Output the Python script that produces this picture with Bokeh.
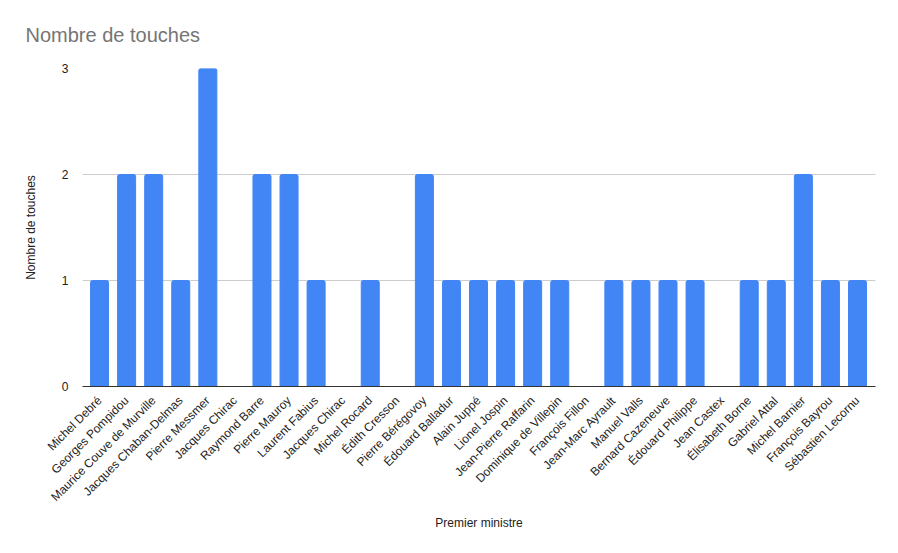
import math
from bokeh.plotting import figure
from bokeh.models import ColumnDataSource, FixedTicker, Range1d
from bokeh.embed import file_html
from bokeh.resources import INLINE

# premiers ministres (Chirac apparait deux fois, donc axe numerique)
ministres = [
    "Michel Debré", "Georges Pompidou", "Maurice Couve de Murville",
    "Jacques Chaban-Delmas", "Pierre Messmer", "Jacques Chirac",
    "Raymond Barre", "Pierre Mauroy", "Laurent Fabius", "Jacques Chirac",
    "Michel Rocard", "Édith Cresson", "Pierre Bérégovoy", "Édouard Balladur",
    "Alain Juppé", "Lionel Jospin", "Jean-Pierre Raffarin",
    "Dominique de Villepin", "François Fillon", "Jean-Marc Ayrault",
    "Manuel Valls", "Bernard Cazeneuve", "Édouard Philippe", "Jean Castex",
    "Élisabeth Borne", "Gabriel Attal", "Michel Barnier", "François Bayrou",
    "Sébastien Lecornu",
]
touches = [1, 2, 2, 1, 3, 0, 2, 2, 1, 0, 1, 0, 2, 1, 1, 1, 1, 1, 0, 1, 1, 1, 1, 0, 1, 1, 2, 1, 1]
y_ticks = [0, 1, 2, 3]

pos = list(range(len(ministres)))
src = ColumnDataSource(data=dict(x=pos, top=touches))

FONT = "Liberation Sans"

p = figure(width=882, height=537, output_backend="svg", toolbar_location=None,
           x_range=Range1d(-0.63, len(ministres) - 1 + 0.665), y_range=Range1d(0, 3),
           min_border_left=82, min_border_right=7, min_border_top=67,
           min_border_bottom=151, title="Nombre de touches")

p.vbar(x="x", top="top", width=0.665, source=src, color="#4285f4",
       border_radius=(2, 2, 0, 0))

p.title.text_font = FONT
p.title.text_font_size = "20px"
p.title.text_font_style = "normal"
p.title.text_color = "#757575"
p.title.offset = -57
p.title.vertical_align = "middle"
p.title.standoff = 44

p.outline_line_color = None
p.xgrid.grid_line_color = None
p.ygrid.grid_line_color = "#cccccc"
p.ygrid.ticker = FixedTicker(ticks=y_ticks)

p.xaxis.ticker = FixedTicker(ticks=pos)
p.xaxis.major_label_overrides = {i: n for i, n in enumerate(ministres)}
p.xaxis.major_label_orientation = math.pi / 4
p.xaxis.major_label_text_font = FONT
p.xaxis.major_label_text_font_size = "12px"
p.xaxis.major_label_text_color = "#222222"
p.xaxis.major_tick_line_color = None
p.xaxis.minor_tick_line_color = None
p.xaxis.axis_line_color = "#333333"
p.xaxis.major_label_standoff = 6
p.xaxis.axis_label = "Premier ministre"
p.xaxis.axis_label_text_font = FONT
p.xaxis.axis_label_text_font_size = "12px"
p.xaxis.axis_label_text_font_style = "normal"
p.xaxis.axis_label_text_color = "#222222"
p.xaxis.axis_label_standoff = 4

p.yaxis.ticker = FixedTicker(ticks=y_ticks)
p.yaxis.axis_line_color = None
p.yaxis.major_tick_line_color = None
p.yaxis.minor_tick_line_color = None
p.yaxis.major_label_text_font = FONT
p.yaxis.major_label_text_font_size = "12px"
p.yaxis.major_label_text_color = "#222222"
p.yaxis.major_label_standoff = 8
p.yaxis.axis_label = "Nombre de touches"
p.yaxis.axis_label_text_font = FONT
p.yaxis.axis_label_text_font_size = "12px"
p.yaxis.axis_label_text_font_style = "normal"
p.yaxis.axis_label_text_color = "#222222"
p.yaxis.axis_label_standoff = 21

open("out.html", "w").write(file_html(p, INLINE))
